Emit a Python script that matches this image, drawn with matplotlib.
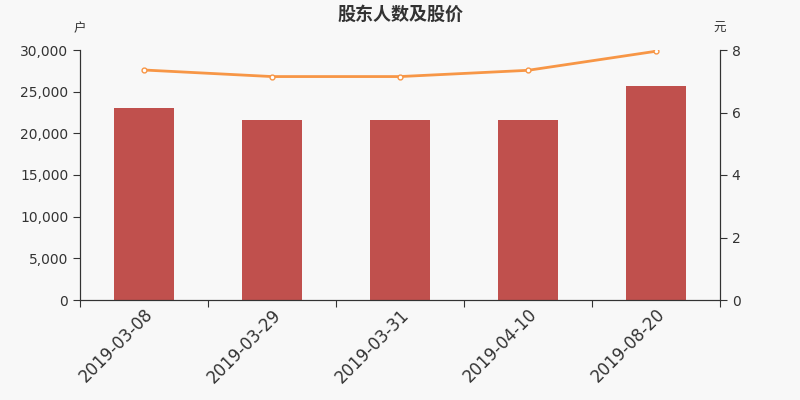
import matplotlib
matplotlib.use("Agg")
import matplotlib.pyplot as plt
import numpy as np

plt.rcParams['font.family'] = ['DejaVu Sans', 'Noto Sans CJK SC']

dates = ["2019-03-08", "2019-03-29", "2019-03-31", "2019-04-10", "2019-08-20"]
holders = [23040, 21580, 21580, 21640, 25650]
price = [7.36, 7.15, 7.15, 7.35, 7.96]

bg = "#f8f8f8"
cjk = ['Noto Sans CJK SC', 'DejaVu Sans']
fig = plt.figure(figsize=(8, 4), dpi=100, facecolor=bg)
ax = fig.add_axes([0.1, 0.25, 0.8, 0.625], facecolor=bg)
ax2 = ax.twinx()

x = np.arange(len(dates))
ax.bar(x, holders, width=0.47, color="#c0504d", zorder=2)
ax.set_xlim(-0.5, len(dates) - 0.5)
ax.set_ylim(0, 30000)
ax.set_yticks(np.arange(0, 30001, 5000))
ax.set_yticklabels([f"{v:,}" for v in range(0, 30001, 5000)], fontsize=10, color="#333333")
ax.set_xticks(np.arange(-0.5, len(dates), 1.0), minor=False)
ax.set_xticklabels([])
ax.set_xticks(x, minor=True)
ax.set_xticklabels(dates, minor=True, rotation=45, ha="right", rotation_mode="anchor",
                   fontsize=12, color="#333333")
ax.tick_params(axis="x", which="minor", length=0, pad=4)
ax.tick_params(axis="x", which="major", length=5, color="#333333")
ax.tick_params(axis="y", length=5, color="#333333")

ax2.plot(x, price, color="#f79646", lw=2, marker="o", markersize=3.5,
         markerfacecolor="white", markeredgecolor="#f79646", markeredgewidth=1, zorder=3)
ax2.set_ylim(0, 8)
ax2.set_yticks([0, 2, 4, 6, 8])
ax2.set_yticklabels(["0", "2", "4", "6", "8"], fontsize=10, color="#333333")
ax2.tick_params(axis="y", length=5, color="#333333")

for a in (ax, ax2):
    a.spines["top"].set_visible(False)
    for s in ("left", "right", "bottom"):
        a.spines[s].set_color("#333333")

fig.text(0.1, 0.92, "户", fontsize=9, color="#333333", ha="center", family=cjk)
fig.text(0.9, 0.92, "元", fontsize=9, color="#333333", ha="center", family=cjk)
fig.text(0.5, 0.965, "股东人数及股价", fontsize=13, fontweight="bold", color="#333333",
         ha="center", va="center", family=cjk)

fig.savefig("out.png", dpi=100, facecolor=bg)
